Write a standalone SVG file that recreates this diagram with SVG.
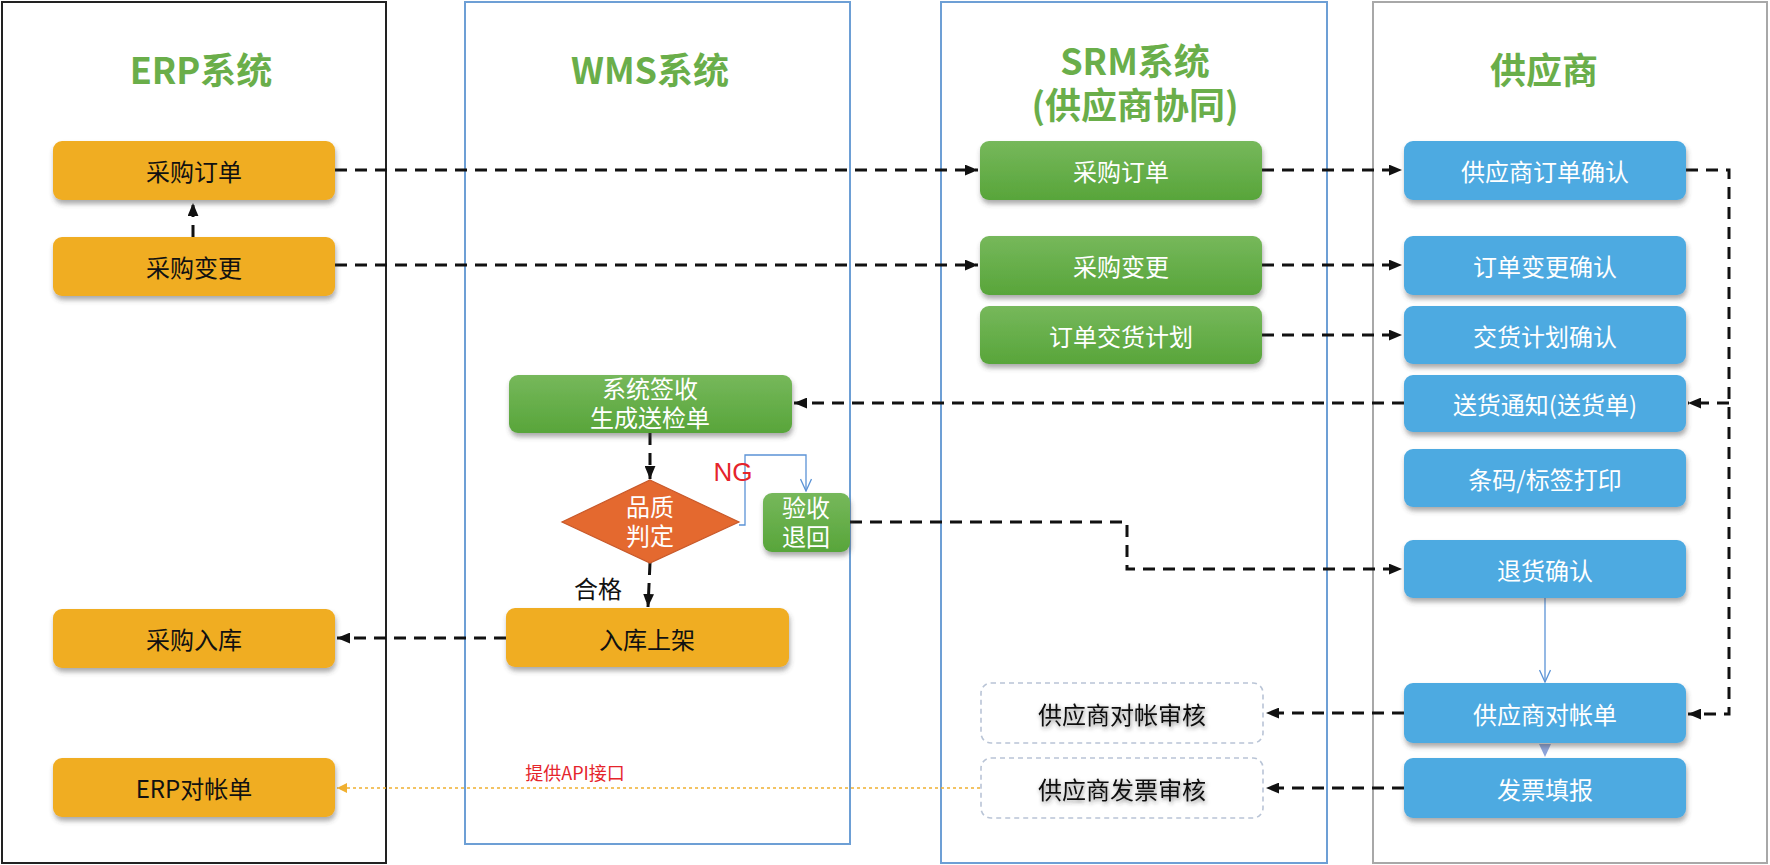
<svg xmlns="http://www.w3.org/2000/svg" width="1770" height="865" viewBox="0 0 1770 865">
<defs>
  <filter id="sh" x="-10%" y="-20%" width="120%" height="150%">
    <feDropShadow dx="1" dy="4" stdDeviation="2.5" flood-color="#444" flood-opacity="0.45"/>
  </filter>
  <filter id="tsh" x="-10%" y="-30%" width="120%" height="160%">
    <feDropShadow dx="1" dy="2" stdDeviation="2" flood-color="#333" flood-opacity="0.6"/>
  </filter>
  <linearGradient id="gg" x1="0" y1="0" x2="0" y2="1">
    <stop offset="0" stop-color="#76b85b"/>
    <stop offset="1" stop-color="#58a53a"/>
  </linearGradient>
  <marker id="ah" viewBox="0 0 12 10" refX="12" refY="5" markerWidth="13" markerHeight="11" markerUnits="userSpaceOnUse" orient="auto">
    <path d="M0,0 L12,5 L0,10 z" fill="#111"/>
  </marker>
  <marker id="av" viewBox="0 0 14 12" refX="13" refY="6" markerWidth="14" markerHeight="12" markerUnits="userSpaceOnUse" orient="auto">
    <path d="M1,0.5 L13,6 L1,11.5" fill="none" stroke="#5b93d6" stroke-width="1.3"/>
  </marker>
  <marker id="ao" viewBox="0 0 10 10" refX="10" refY="5" markerWidth="10" markerHeight="10" markerUnits="userSpaceOnUse" orient="auto">
    <path d="M0,0 L10,5 L0,10 z" fill="#f0b030"/>
  </marker>
</defs>
<style>
  .lane{fill:#fff;stroke-width:2}
  .title{font-family:"Noto Sans CJK SC","Noto Sans",sans-serif;font-weight:bold;font-size:36px;fill:#6aae4a;text-anchor:middle;dominant-baseline:central}
  .t{font-family:"Noto Sans CJK SC","Noto Sans",sans-serif;font-size:24px;text-anchor:middle;dominant-baseline:central}
  .t2{font-family:"Noto Sans CJK SC","Noto Sans",sans-serif;font-size:24px;text-anchor:middle}
  .dk{fill:#111}
  .wt{fill:#fff}
  .orange{fill:#f0ad22;filter:url(#sh)}
  .green{fill:url(#gg);filter:url(#sh)}
  .blue{fill:#4eaae1;filter:url(#sh)}
  .dbox{fill:#fff;stroke:#b9c4d6;stroke-width:1.6;stroke-dasharray:5 4}
  .dash{fill:none;stroke:#111;stroke-width:3;stroke-dasharray:12 8}
  .thin{fill:none;stroke:#5b93d6;stroke-width:1.3}
</style>
<rect width="1770" height="865" fill="#fff"/>
<g id="lanes">
  <rect class="lane" x="2" y="2" width="384" height="861" stroke="#222"/>
  <rect class="lane" x="465" y="2" width="385" height="842" stroke="#6d9fd5"/>
  <rect class="lane" x="941" y="2" width="386" height="861" stroke="#6d9fd5"/>
  <rect class="lane" x="1373" y="2" width="394" height="861" stroke="#a8a8a8"/>
  <text class="title" x="201" y="68">ERP系统</text>
  <text class="title" x="650" y="68">WMS系统</text>
  <text class="title" x="1135" y="59">SRM系统</text>
  <text class="title" x="1135" y="103">(供应商协同)</text>
  <text class="title" x="1544" y="68">供应商</text>
</g>
<g id="connectors">
  <path class="dash" d="M335,170 H978" marker-end="url(#ah)"/>
  <path class="dash" d="M335,265 H978" marker-end="url(#ah)"/>
  <path class="dash" d="M193,237 V203" marker-end="url(#ah)"/>
  <path class="dash" d="M1262,170 H1402" marker-end="url(#ah)"/>
  <path class="dash" d="M1262,265 H1402" marker-end="url(#ah)"/>
  <path class="dash" d="M1262,335 H1402" marker-end="url(#ah)"/>
  <path class="dash" d="M1686,170 H1729 V714 H1688" marker-end="url(#ah)"/>
  <path class="dash" d="M1729,403 H1688" marker-end="url(#ah)"/>
  <path class="dash" d="M1404,403 H794" marker-end="url(#ah)"/>
  <path class="dash" d="M650,433 V479" marker-end="url(#ah)"/>
  <path class="thin" d="M739,525 H745 V455 H806 V491" marker-end="url(#av)"/>
  <path class="dash" d="M650,563 L648,607" marker-end="url(#ah)"/>
  <path class="dash" d="M506,638 H337" marker-end="url(#ah)"/>
  <path class="dash" d="M850,522 H1127 V569 H1402" marker-end="url(#ah)"/>
  <path class="thin" d="M1545,598 V682" marker-end="url(#av)"/>
  <path d="M1539,744 L1551,744 L1545,757 z" fill="#8ea5db"/>
  <path class="dash" d="M1404,713 H1266" marker-end="url(#ah)"/>
  <path class="dash" d="M1404,788 H1266" marker-end="url(#ah)"/>
  <path d="M980,788 H337" fill="none" stroke="#f0b030" stroke-width="1.6" stroke-dasharray="3 3" marker-end="url(#ao)"/>
  <text x="575" y="772" font-family="Noto Sans CJK SC, sans-serif" font-size="18" fill="#e5242b" text-anchor="middle" dominant-baseline="central">提供API接口</text>
  <text x="733" y="472" font-family="Liberation Sans, Arial, sans-serif" font-size="26" fill="#e5242b" text-anchor="middle" dominant-baseline="central">NG</text>
  <text class="t dk" x="598" y="587">合格</text>
</g>
<g id="erp-po"><rect class="orange" x="53" y="141" width="282" height="59" rx="9"/><text class="t dk" x="194" y="170">采购订单</text></g>
<g id="erp-chg"><rect class="orange" x="53" y="237" width="282" height="59" rx="9"/><text class="t dk" x="194" y="266">采购变更</text></g>
<g id="erp-in"><rect class="orange" x="53" y="609" width="282" height="59" rx="9"/><text class="t dk" x="194" y="638">采购入库</text></g>
<g id="erp-rec"><rect class="orange" x="53" y="758" width="282" height="59" rx="9"/><text class="t dk" x="194" y="787">ERP对帐单</text></g>

<g id="wms-sign"><rect class="green" x="509" y="375" width="283" height="58" rx="9"/><text class="t2 wt" x="650" y="398"><tspan x="650">系统签收</tspan><tspan x="650" dy="29">生成送检单</tspan></text></g>
<g id="wms-qc"><polygon points="650,480 739,522 650,563 562,522" fill="#e4692f" stroke="#c8592a" stroke-width="1.2"/><text class="t2 wt" x="650" y="516"><tspan x="650">品质</tspan><tspan x="650" dy="29">判定</tspan></text></g>
<g id="wms-ret"><rect class="green" x="763" y="493" width="87" height="59" rx="9"/><text class="t2 wt" x="806" y="517"><tspan x="806">验收</tspan><tspan x="806" dy="29">退回</tspan></text></g>
<g id="wms-put"><rect class="orange" x="506" y="608" width="283" height="59" rx="9"/><text class="t dk" x="647" y="638">入库上架</text></g>

<g id="srm-po"><rect class="green" x="980" y="141" width="282" height="59" rx="9"/><text class="t wt" x="1121" y="170">采购订单</text></g>
<g id="srm-chg"><rect class="green" x="980" y="236" width="282" height="59" rx="9"/><text class="t wt" x="1121" y="265">采购变更</text></g>
<g id="srm-plan"><rect class="green" x="980" y="306" width="282" height="58" rx="9"/><text class="t wt" x="1121" y="335">订单交货计划</text></g>
<g id="srm-rec"><rect class="dbox" x="981" y="683" width="282" height="60" rx="10"/><text class="t dk" x="1122" y="713" filter="url(#tsh)">供应商对帐审核</text></g>
<g id="srm-inv"><rect class="dbox" x="981" y="758" width="282" height="60" rx="10"/><text class="t dk" x="1122" y="788" filter="url(#tsh)">供应商发票审核</text></g>

<g id="sup-po"><rect class="blue" x="1404" y="141" width="282" height="59" rx="9"/><text class="t wt" x="1545" y="170">供应商订单确认</text></g>
<g id="sup-chg"><rect class="blue" x="1404" y="236" width="282" height="59" rx="9"/><text class="t wt" x="1545" y="265">订单变更确认</text></g>
<g id="sup-plan"><rect class="blue" x="1404" y="306" width="282" height="58" rx="9"/><text class="t wt" x="1545" y="335">交货计划确认</text></g>
<g id="sup-asn"><rect class="blue" x="1404" y="375" width="282" height="57" rx="9"/><text class="t wt" x="1545" y="403">送货通知(送货单)</text></g>
<g id="sup-label"><rect class="blue" x="1404" y="449" width="282" height="58" rx="9"/><text class="t wt" x="1545" y="478">条码/标签打印</text></g>
<g id="sup-ret"><rect class="blue" x="1404" y="540" width="282" height="58" rx="9"/><text class="t wt" x="1545" y="569">退货确认</text></g>
<g id="sup-rec"><rect class="blue" x="1404" y="683" width="282" height="60" rx="9"/><text class="t wt" x="1545" y="713">供应商对帐单</text></g>
<g id="sup-inv"><rect class="blue" x="1404" y="758" width="282" height="60" rx="9"/><text class="t wt" x="1545" y="788">发票填报</text></g>
</svg>
